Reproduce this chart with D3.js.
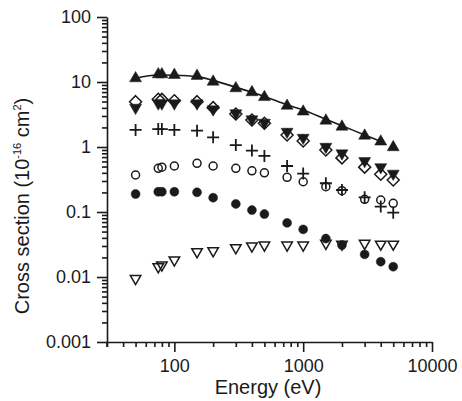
<!DOCTYPE html>
<html><head><meta charset="utf-8">
<script src="https://cdn.jsdelivr.net/npm/d3@7"></script>
<style>body{margin:0;background:#fff}svg{display:block}text{font-family:"Liberation Sans",Arial,sans-serif;fill:#1a1a1a}</style>
</head><body><svg id="c" width="462" height="401"></svg>
<script>
const energy = [50, 75, 80, 100, 150, 200, 300, 400, 500, 750, 1000, 1500, 2000, 3000, 4000, 5000];
const totalUp = [11.4, 13.1, 13.1, 12.8, 12.4, 10.1, 8.0, 6.95, 5.85, 4.3, 3.5, 2.54, 2.05, 1.49, 1.21, 0.99];
const filledDown = [4.03, 4.7, 4.7, 4.7, 4.7, 3.8, 3.3, 2.67, 2.37, 1.72, 1.39, 1.01, 0.80, 0.61, 0.49, 0.39];
const openDiamond = [4.98, 5.42, 5.4, 5.15, 4.98, 4.03, 3.22, 2.6, 2.32, 1.53, 1.24, 0.90, 0.68, 0.49, 0.38, 0.31];
const plusSeries = [1.83, 1.89, 1.89, 1.83, 1.78, 1.41, 1.07, 0.88, 0.73, 0.51, 0.39, 0.277, 0.218, 0.168, 0.121, 0.0975];
const openCircle = [0.371, 0.47, 0.49, 0.51, 0.56, 0.51, 0.47, 0.43, 0.40, 0.342, 0.292, 0.245, 0.213, 0.157, 0.153, 0.136];
const filledCircle = [0.189, 0.205, 0.205, 0.205, 0.201, 0.166, 0.133, 0.107, 0.093, 0.068, 0.054, 0.039, 0.031, 0.0223, 0.0172, 0.0144];
const openDown = [0.0095, 0.0144, 0.0153, 0.0183, 0.0245, 0.0254, 0.0282, 0.030, 0.031, 0.031, 0.031, 0.033, 0.032, 0.033, 0.032, 0.032];
const fitEnergy = [50, 75, 100, 150, 200, 300, 400, 500, 750, 1000, 1500, 2000, 3000, 4000];
const fitValue = [11.4, 12.8, 12.7, 12.1, 10.6, 8.3, 6.95, 6.0, 4.45, 3.7, 2.67, 2.13, 1.53, 1.22];
const xTickLabels = ["100", "1000", "10000"];
const yTickLabels = ["0.001", "0.01", "0.1", "1", "10", "100"];

const svg = d3.select("#c");
const x = d3.scaleLog().domain([30, 10000]).range([107, 432]);
const y = d3.scaleLog().domain([0.001, 100]).range([342, 17]);
const ink = "#1a1a1a";

const xMinor = [], yMinor = [];
[10, 100, 1000].forEach(d => { for (let k = 2; k <= 9; k++) { const v = d * k; if (v >= 30 && v < 10000) xMinor.push(v); } });
[0.001, 0.01, 0.1, 1, 10].forEach(d => { for (let k = 2; k <= 9; k++) yMinor.push(d * k); });

const xAxisMinor = d3.axisBottom(x).tickValues(xMinor).tickSize(5).tickFormat("");
const xAxisMajor = d3.axisBottom(x).tickValues(xTickLabels.map(Number)).tickSize(10).tickPadding(7).tickFormat((d, i) => xTickLabels[i]);
const yAxisMinor = d3.axisLeft(y).tickValues(yMinor).tickSize(5).tickFormat("");
const yAxisMajor = d3.axisLeft(y).tickValues(yTickLabels.map(Number)).tickSize(10).tickPadding(6).tickFormat((d, i) => yTickLabels[i]);

function styleAxis(g) {
  g.selectAll("path,line").attr("stroke", ink).attr("stroke-width", 1.6);
  g.selectAll("text").style("font-size", "18px").attr("fill", ink);
  g.attr("font-family", null).attr("font-size", null);
}
svg.append("g").attr("transform", "translate(0,342)").call(xAxisMinor).call(styleAxis).select(".domain").remove();
svg.append("g").attr("transform", "translate(0,342)").call(xAxisMajor.tickSizeOuter(0)).call(styleAxis);
svg.append("g").attr("transform", "translate(107,0)").call(yAxisMinor).call(styleAxis).select(".domain").remove();
svg.append("g").attr("transform", "translate(107,0)").call(yAxisMajor.tickSizeOuter(0)).call(styleAxis);
svg.append("line").attr("x1", x(30)).attr("x2", x(30)).attr("y1", 342).attr("y2", 347).attr("stroke", ink).attr("stroke-width", 1.6);

svg.append("text").attr("x", 268).attr("y", 394).attr("text-anchor", "middle").style("font-size", "20px").text("Energy (eV)");
const yt = svg.append("text").attr("transform", "translate(29,206) rotate(-90)").attr("text-anchor", "middle").style("font-size", "20px");
yt.append("tspan").text("Cross section (10");
yt.append("tspan").attr("dy", -8).style("font-size", "11px").text("-16");
yt.append("tspan").attr("dy", 8).text(" cm");
yt.append("tspan").attr("dy", -8).style("font-size", "11px").text("2");
yt.append("tspan").attr("dy", 8).text(")");

svg.append("path").datum(fitEnergy.map((e, i) => [e, fitValue[i]]))
  .attr("d", d3.line().x(d => x(d[0])).y(d => y(d[1])).curve(d3.curveMonotoneX))
  .attr("fill", "none").attr("stroke", ink).attr("stroke-width", 1.6);

const tri = d3.symbol().type(d3.symbolTriangle).size(62)();
const diamondPath = "M0,-6L6,0L0,6L-6,0Z";
const plusPath = "M-6,0H6M0,-6V6";
const circleOpen = d3.symbol().type(d3.symbolCircle).size(Math.PI * 16)();
const circleFilled = d3.symbol().type(d3.symbolCircle).size(Math.PI * 20)();
const triOpen = d3.symbol().type(d3.symbolTriangle).size(48)();

function draw(vals, path, opts) {
  svg.append("g").selectAll("path").data(energy.map((e, i) => [e, vals[i]])).join("path")
    .attr("transform", d => `translate(${x(d[0])},${y(d[1])})` + (opts.rot ? " rotate(180)" : ""))
    .attr("d", path)
    .attr("fill", opts.fill ? ink : "none")
    .attr("stroke", ink).attr("stroke-width", opts.sw || 1.5);
}
draw(filledCircle, circleFilled, {fill: true, sw: 0.5});
draw(openDown, triOpen, {rot: true, sw: 1.5});
draw(openCircle, circleOpen, {sw: 1.5});
draw(plusSeries, plusPath, {sw: 1.8});
draw(filledDown, tri, {fill: true, rot: true, sw: 0.5});
draw(openDiamond, diamondPath, {sw: 1.5});
draw(totalUp, tri, {fill: true, sw: 0.5});
</script></body></html>
